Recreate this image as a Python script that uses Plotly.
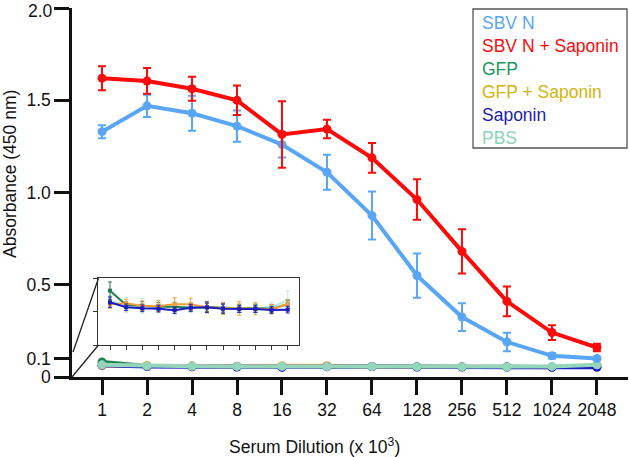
import plotly.graph_objects as go

dilutions = ["1", "2", "4", "8", "16", "32", "64", "128", "256", "512", "1024", "2048"]

sbvn = [1.33, 1.47, 1.43, 1.36, 1.26, 1.11, 0.875, 0.55, 0.325, 0.19, 0.115, 0.10]
sbvn_err = [0.035, 0.06, 0.095, 0.085, 0.07, 0.095, 0.13, 0.12, 0.075, 0.05, 0.015, 0.008]
sbvn_sap = [1.62, 1.605, 1.563, 1.50, 1.315, 1.344, 1.188, 0.962, 0.681, 0.41, 0.241, 0.16]
sbvn_sap_err = [0.065, 0.07, 0.065, 0.08, 0.18, 0.05, 0.08, 0.11, 0.12, 0.08, 0.04, 0.02]
gfp = [0.0815, 0.06, 0.059, 0.0575, 0.0575, 0.056, 0.0565, 0.0555, 0.055, 0.055, 0.0545, 0.061]
gfp_err = [0.013, 0.005, 0.006, 0.006, 0.006, 0.006, 0.006, 0.006, 0.006, 0.006, 0.006, 0.006]
gfp_sap = [0.061, 0.0625, 0.059, 0.0585, 0.061, 0.061, 0.0565, 0.055, 0.055, 0.0545, 0.0535, 0.061]
gfp_sap_err = [0.0055, 0.006, 0.007, 0.008, 0.01, 0.009, 0.008, 0.009, 0.01, 0.009, 0.007, 0.007]
saponin = [0.064, 0.0565, 0.055, 0.0545, 0.052, 0.056, 0.0565, 0.0545, 0.054, 0.054, 0.0525, 0.053]
saponin_err = [0.008, 0.005, 0.005, 0.005, 0.005, 0.005, 0.008, 0.007, 0.005, 0.005, 0.005, 0.005]
pbs = [0.066, 0.06, 0.0585, 0.0575, 0.0575, 0.0565, 0.0565, 0.056, 0.0555, 0.055, 0.0575, 0.0665]
pbs_err = [0.008, 0.011, 0.011, 0.009, 0.008, 0.007, 0.007, 0.007, 0.007, 0.007, 0.006, 0.014]

y_ticks = [0, 0.1, 0.5, 1.0, 1.5, 2.0]
y_ticklabels = ["0", "0.1", "0.5", "1.0", "1.5", "2.0"]

legend_names = ["SBV N", "SBV N + Saponin", "GFP", "GFP + Saponin", "Saponin", "PBS"]
legend_colors = ["#5aa6f6", "#fe0a0a", "#18975c", "#d4b40c", "#1c1cae", "#8ed3b6"]

C_SBVN = "#5aa6f6"
C_SBVS = "#fe0a0a"
C_GFP = "#1f7f4f"
C_GFPS = "#f2a13e"
C_SAP = "#1c1cc0"
C_PBS = "#93d6bb"

FONT = "Arial, Liberation Sans, sans-serif"

fig = go.Figure()


def add(y, err, color, xa="x", ya="y", lw=4, ms=9, sym="circle", ew=2, ecap=4, op=1.0):
    fig.add_trace(go.Scatter(
        x=dilutions, y=y, mode="lines+markers",
        line=dict(color=color, width=lw),
        marker=dict(color=color, size=ms, symbol=sym),
        error_y=dict(type="data", array=err, visible=True, color=color, thickness=ew, width=ecap),
        xaxis=xa, yaxis=ya, showlegend=False, opacity=op, cliponaxis=False,
    ))


# main low series
add(gfp, gfp_err, C_GFP, ew=1.5, ecap=3)
add(gfp_sap, gfp_sap_err, C_GFPS, ew=1.5, ecap=3)
add(saponin, saponin_err, C_SAP, ew=1.5, ecap=3)
add(pbs, pbs_err, C_PBS, ew=1.5, ecap=3)
# main high series
add(sbvn, sbvn_err, C_SBVN)
add(sbvn_sap, sbvn_sap_err, C_SBVS)

# inset
add(pbs, pbs_err, "#bfe8d8", "x2", "y2", lw=2, ms=4, sym="square", ew=1, ecap=2)
add(gfp, gfp_err, C_GFP, "x2", "y2", lw=2, ms=4, sym="square", ew=1, ecap=2)
add(gfp_sap, gfp_sap_err, C_GFPS, "x2", "y2", lw=2, ms=4, sym="square", ew=1, ecap=2)
add(saponin, saponin_err, C_SAP, "x2", "y2", lw=2, ms=4, sym="square", ew=1, ecap=2)

L, R, T, B = 72, 1, 8, 80
W, H = 629, 457
pw, ph = W - L - R, H - T - B


def px(X):
    return (X - L) / pw


def py(Y):
    return (H - B - Y) / ph


shapes = [
    dict(type="line", xref="paper", yref="paper", x0=px(98.5), y0=py(278.3), x1=px(73), y1=py(352),
         line=dict(color="#222", width=1.3)),
    dict(type="line", xref="paper", yref="paper", x0=px(98.5), y0=py(345), x1=px(72), y1=py(377),
         line=dict(color="#222", width=1.3)),
    dict(type="rect", xref="paper", yref="paper", x0=px(473), x1=px(627), y0=py(148), y1=py(9),
         line=dict(color="#555", width=1.3), fillcolor="white", layer="above"),
]

annotations = []
leg_y = [23, 45.5, 69, 92, 115, 137.5]
for name, col, yy in zip(legend_names, legend_colors, leg_y):
    annotations.append(dict(text=name, xref="paper", yref="paper", x=px(480), y=py(yy),
                            xanchor="left", yanchor="middle", showarrow=False,
                            font=dict(family=FONT, size=17.5, color=col)))

annotations.append(dict(text="Absorbance (450 nm)", xref="paper", yref="paper", x=px(10), y=py(174),
                        textangle=-90, showarrow=False, xanchor="center", yanchor="middle",
                        font=dict(family=FONT, size=17.5, color="#111")))
annotations.append(dict(text="Serum Dilution (x 10<sup>3</sup>)", xref="paper", yref="paper", x=px(314),
                        y=py(446), showarrow=False, xanchor="center", yanchor="middle",
                        font=dict(family=FONT, size=17.5, color="#111")))
# top y tick label (plotly hides it at the figure edge)
annotations.append(dict(text=y_ticklabels[-1], xref="paper", yref="y", x=px(55), y=y_ticks[-1],
                        xanchor="right", yanchor="middle", yshift=-3, showarrow=False,
                        font=dict(family=FONT, size=17.5, color="#111")))
tick_text_shown = y_ticklabels[:-1] + [""]

fig.update_layout(
    width=W, height=H,
    margin=dict(l=L, r=R, t=T, b=B),
    paper_bgcolor="white", plot_bgcolor="white",
    font=dict(family=FONT, size=17.5, color="#111"),
    shapes=shapes, annotations=annotations,
    xaxis=dict(type="category", categoryorder="array", categoryarray=dilutions,
               range=[-0.667, 11.69], showline=True, linecolor="#111", linewidth=2.5,
               ticks="outside", ticklen=15, tickwidth=2.5, tickcolor="#111",
               showgrid=False, zeroline=False, tickfont=dict(size=17.5), domain=[0, 1]),
    yaxis=dict(range=[0, 2.0005], tickvals=y_ticks, ticktext=tick_text_shown,
               showline=True, linecolor="#111", linewidth=2.5,
               ticks="outside", ticklen=15, tickwidth=2.5, tickcolor="#111",
               showgrid=False, zeroline=False, tickfont=dict(size=17.5), domain=[0, 1]),
    xaxis2=dict(type="category", categoryorder="array", categoryarray=dilutions,
                range=[-0.724, 11.70], domain=[px(98.3), px(299)], anchor="y2",
                showline=True, mirror=True, linecolor="#333", linewidth=1.2,
                ticks="outside", ticklen=4, tickwidth=1, tickcolor="#333",
                showticklabels=False, showgrid=False, zeroline=False),
    yaxis2=dict(range=[0, 0.1], tickvals=[0, 0.05, 0.1], domain=[py(345), py(278.3)], anchor="x2",
                showline=True, mirror=True, linecolor="#333", linewidth=1.2,
                ticks="outside", ticklen=4, tickwidth=1, tickcolor="#333",
                showticklabels=False, showgrid=False, zeroline=False),
)

fig.write_html("out.html", config={"displayModeBar": False},
               post_script="document.body.style.margin='0';")
